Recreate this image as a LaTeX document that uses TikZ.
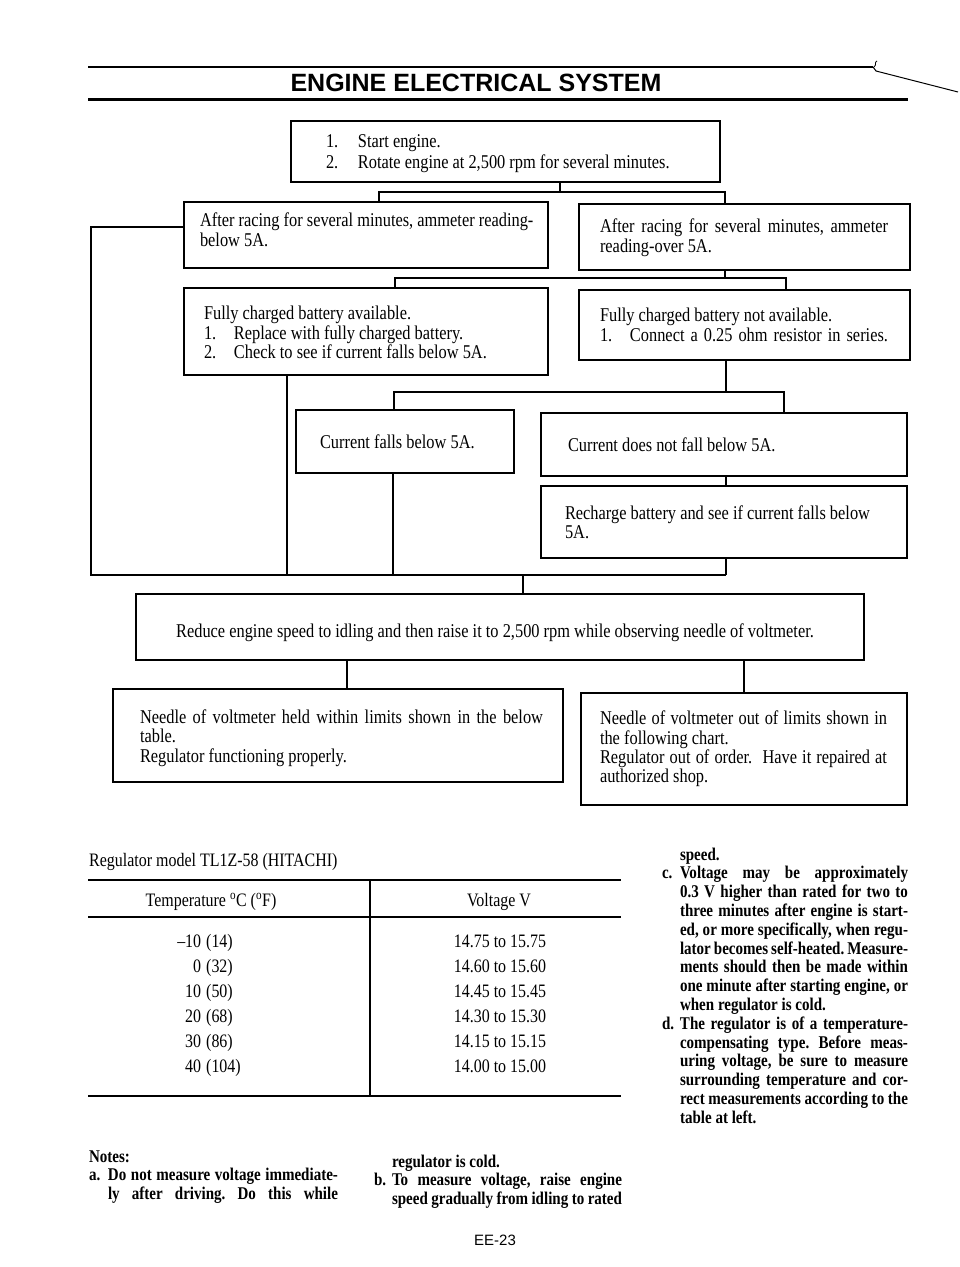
\documentclass[tikz,border=0pt]{standalone}
\usepackage{fontspec}
\setmainfont{Liberation Serif}[FakeStretch=0.84]
\newfontfamily\titlefont{Liberation Sans}
\newcommand\bodyf{\fontsize{19.5}{18.5}\selectfont}
\newcommand\tabf{\fontsize{19}{18.5}\selectfont}
\newcommand\boldf{\fontsize{17.9}{18.8}\selectfont\bfseries}
\newcommand\J[2]{\makebox[#1][s]{#2}}
\newcommand\boxat[5]{\node[fbox, minimum width={(#4-#2)*1pt}, minimum height={(#5-#3)*1pt}, anchor=north west] (#1) at (#2,#3) {};}
\tikzset{
  fbox/.style={draw, line width=1.4pt, inner sep=0pt, outer sep=0pt},
  txt/.style={anchor=north west, inner sep=0pt, outer sep=0pt, align=left, font=\bodyf},
  btxt/.style={anchor=north west, inner sep=0pt, outer sep=0pt, align=left, font=\boldf},
  conn/.style={line width=1.1pt},
  cell/.style={anchor=base, inner sep=0pt, font=\tabf}
}
\frenchspacing
\begin{document}
\begin{tikzpicture}[x=1pt,y=-1pt]
\frenchspacing
\useasboundingbox (0,0) rectangle (960,1267);

% header
\draw[line width=2pt] (88,67) -- (873,67);
\draw[line width=1pt] (873,67) -- (876,71) -- (958,92);
\draw[line width=0.8pt] (874,67) .. controls (877,65) and (874,62) .. (877,61);
\draw[line width=3pt] (88,99) -- (908,99);
\node[font=\titlefont\bfseries\fontsize{25}{26}\selectfont, inner sep=0pt] (title) at (476,83) {ENGINE ELECTRICAL SYSTEM};

% boxes
\boxat{b1}{291}{121}{720}{182}
\boxat{b2}{184}{202}{548}{268}
\boxat{b3}{579}{204}{910}{270}
\boxat{b4}{184}{288}{548}{375}
\boxat{b5}{579}{290}{910}{360}
\boxat{b6}{296}{410}{514}{473}
\boxat{b7}{541}{413}{907}{476}
\boxat{b8}{541}{486}{907}{558}
\boxat{b11}{136}{594}{864}{660}
\boxat{b9}{113}{689}{563}{782}
\boxat{b10}{581}{693}{907}{805}

% box texts
\node[txt] (t1) at (326,148-13) {\strut\makebox[32pt][l]{1.}Start engine.\\\makebox[32pt][l]{2.}Rotate engine at 2,500 rpm for several minutes.};
\node[txt] (t2) at (200,226-13) {\strut After racing for several minutes, ammeter reading-\\below 5A.};
\node[txt] (t3) at (600,232-13) {\strut\J{288pt}{After racing for several minutes, ammeter}\\reading-over 5A.};
\node[txt] (t4) at (204,319-13) {\strut Fully charged battery available.\\\makebox[30pt][l]{1.}Replace with fully charged battery.\\\makebox[30pt][l]{2.}Check to see if current falls below 5A.};
\node[txt] (t5) at (600,321-13) {\strut Fully charged battery not available.\\\makebox[30pt][l]{1.}\J{258pt}{Connect a 0.25 ohm resistor in series.}};
\node[txt] (t6) at (320,448-13) {\strut Current falls below 5A.};
\node[txt] (t7) at (568,451-13) {\strut Current does not fall below 5A.};
\node[txt] (t8) at (565,519-13) {\strut\J{305pt}{Recharge battery and see if current falls below}\\5A.};
\node[anchor=base, inner sep=0pt, font=\bodyf] (t11) at (495,637) {Reduce engine speed to idling and then raise it to 2,500 rpm while observing needle of voltmeter.};
\node[txt, font=\fontsize{19.5}{19.5}\selectfont] (t9) at (140,723-13.65) {\strut\J{403pt}{Needle of voltmeter held within limits shown in the below}\\table.\\Regulator functioning properly.};
\node[txt, font=\fontsize{19.5}{19}\selectfont] (t10) at (600,724-13.3) {\strut\J{287pt}{Needle of voltmeter out of limits shown in}\\the following chart.\\\J{287pt}{Regulator out of order.\ \ Have it repaired at}\\authorized shop.};

% connectors
\coordinate (c1) at (560,192);
\coordinate (c1l) at (379,192);
\coordinate (c1r) at (725,192);
\draw[conn] (b1.south -| c1) -- (c1);
\draw[conn] (c1l |- b2.north) -- (c1l) -- (c1r) -- (c1r |- b3.north);

\coordinate (c2) at (725,278);
\coordinate (c2l) at (395,278);
\coordinate (c2r) at (786,278);
\draw[conn] (b3.south -| c2) -- (c2);
\draw[conn] (c2l |- b4.north) -- (c2l) -- (c2r) -- (c2r |- b5.north);

\coordinate (c3) at (726,392);
\coordinate (c3l) at (394,392);
\coordinate (c3r) at (784,392);
\draw[conn] (b5.south -| c3) -- (c3);
\draw[conn] (c3l |- b6.north) -- (c3l) -- (c3r) -- (c3r |- b7.north);
\draw[conn] (b7.south -| c3) -- (b8.north -| c3);

\coordinate (L1) at (91,227);
\coordinate (L2) at (91,575);
\coordinate (s4) at (287,575);
\coordinate (s6) at (393,575);
\coordinate (s8) at (726,575);
\coordinate (mid) at (523,575);
\draw[conn] (b2.west |- L1) -- (L1) -- (L2) -- (s8);
\draw[conn] (b4.south -| s4) -- (s4);
\draw[conn] (b6.south -| s6) -- (s6);
\draw[conn] (b8.south -| s8) -- (s8);
\draw[conn] (mid) -- (mid |- b11.north);

\coordinate (d1) at (347,675);
\coordinate (d2) at (744,675);
\draw[conn] (b11.south -| d1) -- (b9.north -| d1);
\draw[conn] (b11.south -| d2) -- (b10.north -| d2);

% table
\node[cell, anchor=base west] (reg) at (89,866) {Regulator model TL1Z-58 (HITACHI)};
\draw[line width=2pt] (88,880) -- (621,880);
\draw[line width=1.5pt] (88,917) -- (621,917);
\draw[line width=2pt] (88,1096) -- (621,1096);
\draw[line width=1.2pt] (370,880) -- (370,1096);
\node[cell] (th1) at (211,906) {Temperature \textsuperscript{o}C (\textsuperscript{o}F)};
\node[cell] (th2) at (499,906) {Voltage V};
\foreach \n/\f/\v [count=\i] in {–10/14/14.75 to 15.75, 0/32/14.60 to 15.60, 10/50/14.45 to 15.45, 20/68/14.30 to 15.30, 30/86/14.15 to 15.15, 40/104/14.00 to 15.00}{
  \node[cell, anchor=base west] (tl\i) at (170,{947+25*(\i-1)}) {\makebox[31pt][r]{\n}\hspace{5pt}(\f)};
  \node[cell] (tv\i) at (500,{947+25*(\i-1)}) {\v};
}

% right column notes
\node[btxt] (rc) at (662,860-13.16) {\strut\hspace*{18pt}speed.\\
\makebox[18pt][l]{c.}\J{228pt}{Voltage may be approximately}\\
\hspace*{18pt}\J{228pt}{0.3 V higher than rated for two to}\\
\hspace*{18pt}\J{228pt}{three minutes after engine is start-}\\
\hspace*{18pt}\J{228pt}{ed, or more specifically, when regu-}\\
\hspace*{18pt}\J{228pt}{lator becomes self-heated. Measure-}\\
\hspace*{18pt}\J{228pt}{ments should then be made within}\\
\hspace*{18pt}\J{228pt}{one minute after starting engine, or}\\
\hspace*{18pt}when regulator is cold.\\
\makebox[18pt][l]{d.}\J{228pt}{The regulator is of a temperature-}\\
\hspace*{18pt}\J{228pt}{compensating type. Before meas-}\\
\hspace*{18pt}\J{228pt}{uring voltage, be sure to measure}\\
\hspace*{18pt}\J{228pt}{surrounding temperature and cor-}\\
\hspace*{18pt}\J{228pt}{rect measurements according to the}\\
\hspace*{18pt}table at left.};

% bottom notes
\node[btxt] (na) at (89,1162-13.16) {\strut Notes:\\
\makebox[19pt][l]{a.}\J{230pt}{Do not measure voltage immediate-}\\
\hspace*{19pt}\J{230pt}{ly after driving. Do this while}};
\node[btxt] (nb) at (374,1167-13.16) {\strut\hspace*{18pt}regulator is cold.\\
\makebox[18pt][l]{b.}\J{230pt}{To measure voltage, raise engine}\\
\hspace*{18pt}\J{230pt}{speed gradually from idling to rated}};

\node[font=\titlefont\fontsize{15}{16}\selectfont, inner sep=0pt] (page) at (495,1240) {EE-23};
\end{tikzpicture}
\end{document}
